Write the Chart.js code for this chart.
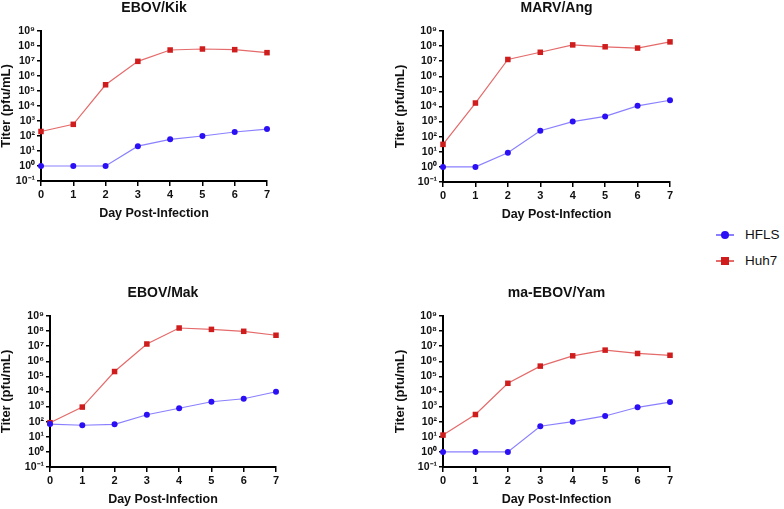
<!DOCTYPE html>
<html>
<head>
<meta charset="utf-8">
<script src="https://cdn.jsdelivr.net/npm/chart.js@4.4.1/dist/chart.umd.min.js"></script>
<style>
  body { margin: 0; background: #fff; width: 784px; height: 509px; overflow: hidden; position: relative; font-family: "Liberation Sans", Arial, sans-serif; }
  canvas { position: absolute; }
  .legend { position: absolute; left: 716px; top: 226px; font-size: 13.5px; color: #111; }
  .item { position: relative; height: 26px; line-height: 18px; padding-left: 29px; }
  .item .ln { position: absolute; left: 0; top: 8px; width: 18px; height: 1.5px; }
  .item .mk { position: absolute; left: 5px; top: 5px; width: 8px; height: 8px; }
</style>
</head>
<body>
<canvas id="c1"></canvas>
<canvas id="c2"></canvas>
<canvas id="c3"></canvas>
<canvas id="c4"></canvas>
<div class="legend">
  <div class="item"><span class="ln" style="background:#8a80ff"></span><span class="mk" style="background:#2b10f5;border-radius:50%"></span>HFLS</div>
  <div class="item"><span class="ln" style="background:#e56a6a"></span><span class="mk" style="background:#cf1d1d"></span>Huh7</div>
</div>
<script>
// data (titer in pfu/mL, days 0-7)
const days = ['0', '1', '2', '3', '4', '5', '6', '7'];
const yTicks = [0.1, 1, 10, 100, 1e3, 1e4, 1e5, 1e6, 1e7, 1e8, 1e9];
const yTickLabels = ['10⁻¹', '10⁰', '10¹', '10²', '10³', '10⁴', '10⁵', '10⁶', '10⁷', '10⁸', '10⁹'];

const kikHFLS = [1, 1, 1, 21, 60, 100, 185, 290];
const kikHuh7 = [200, 600, 2.6e5, 9.5e6, 5.4e7, 6.3e7, 5.7e7, 3.6e7];
const angHFLS = [1, 1, 8.7, 250, 1000, 2200, 1.1e4, 2.6e4];
const angHuh7 = [31, 1.7e4, 1.3e7, 3.9e7, 1.2e8, 9e7, 7.4e7, 1.9e8];
const makHFLS = [70, 58, 67, 290, 780, 2100, 3300, 9600];
const makHuh7 = [86, 930, 2.1e5, 1.4e7, 1.6e8, 1.3e8, 9.7e7, 5.3e7];
const yamHFLS = [1, 1, 1, 50, 100, 240, 900, 2000];
const yamHuh7 = [13, 300, 3.5e4, 4.8e5, 2.3e6, 5.5e6, 3.3e6, 2.5e6];

// canvas placement: left, top, y-axis width, width, height
const panels = [
  { id: 'c1', title: 'EBOV/Kik', hfls: kikHFLS, huh7: kikHuh7, left: 0, top: 0, yw: 41, w: 287, h: 226 },
  { id: 'c2', title: 'MARV/Ang', hfls: angHFLS, huh7: angHuh7, left: 394, top: 0, yw: 49, w: 296, h: 227 },
  { id: 'c3', title: 'EBOV/Mak', hfls: makHFLS, huh7: makHuh7, left: 0, top: 285, yw: 50, w: 296, h: 227 },
  { id: 'c4', title: 'ma-EBOV/Yam', hfls: yamHFLS, huh7: yamHuh7, left: 394, top: 285, yw: 49, w: 296, h: 227 }
];

const font = '"Liberation Sans", Arial, Helvetica, sans-serif';

function makePanel(p) {
  const cv = document.getElementById(p.id);
  cv.style.left = p.left + 'px';
  cv.style.top = p.top + 'px';
  cv.width = p.w;
  cv.height = p.h;
  cv.style.width = p.w + 'px';
  cv.style.height = p.h + 'px';

  new Chart(cv.getContext('2d'), {
    type: 'line',
    data: {
      labels: days,
      datasets: [{
        label: 'HFLS',
        data: p.hfls,
        borderColor: '#8a80ff',
        borderWidth: 1.2,
        pointStyle: 'circle',
        pointRadius: 3,
        pointBackgroundColor: '#2b10f5',
        pointBorderColor: '#2b10f5',
        pointBorderWidth: 0,
        tension: 0,
        clip: false
      }, {
        label: 'Huh7',
        data: p.huh7,
        borderColor: '#e56a6a',
        borderWidth: 1.2,
        pointStyle: 'rect',
        pointRadius: 3.9,
        pointBackgroundColor: '#cf1d1d',
        pointBorderColor: '#cf1d1d',
        pointBorderWidth: 0,
        tension: 0,
        clip: false
      }]
    },
    options: {
      responsive: false,
      animation: false,
      events: [],
      layout: { padding: { left: 0, top: 0, right: 20, bottom: 0 } },
      plugins: {
        legend: { display: false },
        tooltip: { enabled: false },
        title: {
          display: true,
          text: p.title,
          fullSize: false,
          color: '#111',
          font: { family: font, size: 14, weight: 'bold', lineHeight: 1.1 },
          padding: { top: 0, bottom: 15.6 }
        }
      },
      scales: {
        x: {
          type: 'category',
          offset: false,
          afterFit: (s) => { s.height = 45; },
          grid: { drawOnChartArea: false, drawTicks: true, tickLength: 5, color: '#000', lineWidth: 1.5 },
          border: { display: true, color: '#000', width: 2 },
          ticks: { color: '#111', padding: 2, maxRotation: 0, font: { family: font, size: 11, weight: 'bold' } },
          title: {
            display: true,
            text: 'Day Post-Infection',
            color: '#111',
            font: { family: font, size: 12.5, weight: 'bold', lineHeight: 1.2 },
            padding: { top: 0, bottom: 5 }
          }
        },
        y: {
          type: 'logarithmic',
          min: 0.1,
          max: 1e9,
          afterFit: (s) => { s.width = p.yw; },
          afterBuildTicks: (s) => { s.ticks = yTicks.map(v => ({ value: v })); },
          grid: { drawOnChartArea: false, drawTicks: true, tickLength: 4, color: '#000', lineWidth: 1.5 },
          border: { display: true, color: '#000', width: 2 },
          ticks: {
            color: '#111',
            padding: 2,
            autoSkip: false,
            font: { family: font, size: 10.5, weight: 'bold' },
            callback: (v, i) => yTickLabels[i]
          },
          title: {
            display: true,
            text: 'Titer (pfu/mL)',
            color: '#111',
            font: { family: font, size: 13, weight: 'bold', lineHeight: 1 },
            padding: { top: 0, bottom: 0 }
          }
        }
      }
    }
  });
}

panels.forEach(makePanel);
</script>
</body>
</html>
